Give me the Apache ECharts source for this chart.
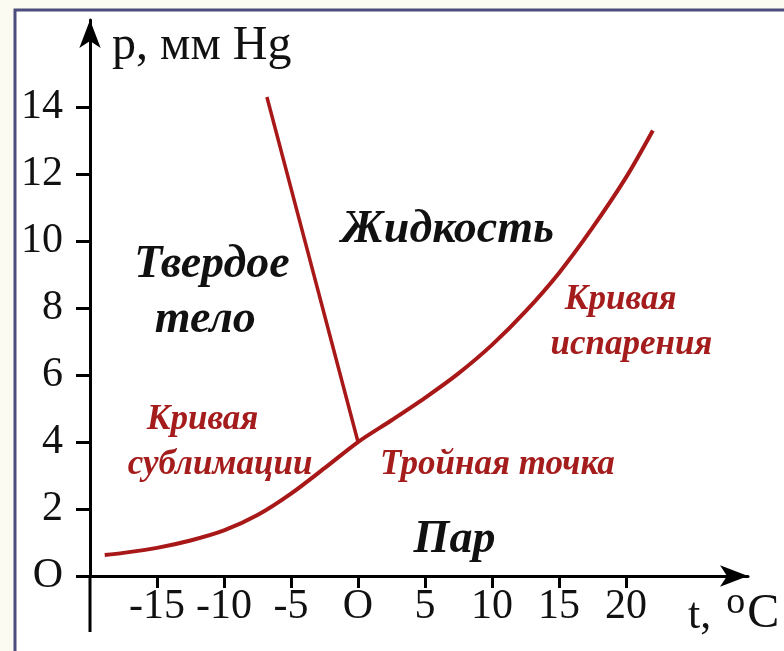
<!DOCTYPE html>
<html>
<head>
<meta charset="utf-8">
<script src="https://cdn.jsdelivr.net/npm/echarts@6/dist/echarts.min.js"></script>
<style>
  html, body { margin: 0; padding: 0; background: #fcfbf1; }
  #chart { width: 784px; height: 651px; }
</style>
</head>
<body>
<div id="chart"></div>
<script>
// phase diagram of water: t (°C) vs p (mm Hg)
var xTicks = [-15, -10, -5, 0, 5, 10, 15, 20];
var yTicks = [0, 2, 4, 6, 8, 10, 12, 14];

// sublimation + vaporization curve (through the triple point)
var vaporCurve = [
    [-18.9, 0.63], [-17.5, 0.69], [-15, 0.84], [-12.5, 1.06], [-10, 1.36],
    [-7.5, 1.82], [-5, 2.46], [-2.5, 3.22], [0, 4.0], [2.5, 4.65],
    [5, 5.32], [7.5, 6.05], [10, 6.9], [12.5, 7.9], [15, 9.05],
    [17.5, 10.4], [20, 11.9], [22, 13.3]
];
// melting curve
var meltCurve = [[0, 4.0], [-6.8, 14.3]];

var blackLabels = [
    [-10.9, 9.28, 'Твердое'],
    [-11.4, 7.64, 'тело'],
    [6.7, 10.33, 'Жидкость'],
    [7.2, 1.07, 'Пар']
];
var redLabels = [
    [19.6, 8.24, 'Кривая'],
    [20.4, 6.9, 'испарения'],
    [-11.6, 4.66, 'Кривая'],
    [-10.3, 3.31, 'сублимации'],
    [10.4, 3.31, 'Тройная точка']
];

var serif = '"Liberation Serif", "DejaVu Serif", serif';
var red = '#a81818';
var zeroLabel = function(v) { return v === 0 ? 'O' : String(v); };

var myChart = echarts.init(document.getElementById('chart'));
var option = {
    backgroundColor: '#fcfbf1',
    animation: false,
    grid: {left: 90, right: 36, top: 20, bottom: 75, outerBoundsMode: 'none', containLabel: false},
    xAxis: {
        type: 'value',
        min: -20,
        max: 29.1,
        splitLine: {show: false},
        axisLine: {
            onZero: false,
            symbol: ['none', 'arrow'],
            symbolSize: [16, 28],
            lineStyle: {color: '#000', width: 3}
        },
        axisTick: {
            customValues: xTicks,
            length: 12,
            lineStyle: {color: '#000', width: 3}
        },
        axisLabel: {
            customValues: xTicks,
            margin: 10,
            color: '#111',
            fontFamily: serif,
            fontSize: 42,
            formatter: zeroLabel
        },
        name: '{a|t, }{s|o}{c|C}',
        nameLocation: 'end',
        nameGap: -60,
        nameTextStyle: {
            align: 'left',
            verticalAlign: 'top',
            padding: [8, 0, 0, 0],
            rich: {
                a: {fontFamily: serif, fontSize: 44, color: '#111', verticalAlign: 'bottom'},
                s: {fontFamily: serif, fontSize: 38, color: '#111', verticalAlign: 'top', padding: [0, 2, 16, 4]},
                c: {fontFamily: serif, fontSize: 48, color: '#111', verticalAlign: 'bottom'}
            }
        }
    },
    yAxis: {
        type: 'value',
        min: 0,
        max: 16.6,
        splitLine: {show: false},
        axisLine: {
            onZero: false,
            symbol: ['none', 'arrow'],
            symbolSize: [16, 28],
            lineStyle: {color: '#000', width: 3}
        },
        axisTick: {
            customValues: yTicks,
            length: 14,
            lineStyle: {color: '#000', width: 3}
        },
        axisLabel: {
            customValues: yTicks,
            margin: 27,
            color: '#111',
            fontFamily: serif,
            fontSize: 42,
            formatter: zeroLabel
        },
        name: 'p, мм Hg',
        nameLocation: 'end',
        nameGap: -26,
        nameTextStyle: {
            align: 'left',
            verticalAlign: 'middle',
            padding: [0, 0, 0, 22],
            fontFamily: serif,
            fontSize: 48,
            color: '#111'
        }
    },
    series: [
        {
            type: 'line',
            data: vaporCurve,
            smooth: 0.3,
            showSymbol: false,
            lineStyle: {color: red, width: 4}
        },
        {
            type: 'line',
            data: meltCurve,
            showSymbol: false,
            lineStyle: {color: red, width: 3.5}
        },
        {
            type: 'scatter',
            data: blackLabels,
            symbolSize: 0,
            itemStyle: {opacity: 1},
            label: {
                show: true,
                position: 'inside',
                formatter: function(p) { return p.data[2]; },
                fontFamily: serif,
                fontStyle: 'italic',
                fontWeight: 'bold',
                fontSize: 46,
                color: '#111'
            }
        },
        {
            type: 'scatter',
            data: redLabels,
            symbolSize: 0,
            itemStyle: {opacity: 1},
            label: {
                show: true,
                position: 'inside',
                formatter: function(p) { return p.data[2]; },
                fontFamily: serif,
                fontStyle: 'italic',
                fontWeight: 'bold',
                fontSize: 35,
                color: '#a51c1c'
            }
        }
    ]
};
myChart.setOption(option);

// frame and the short stub of the p axis below t axis
var origin = myChart.convertToPixel({gridIndex: 0}, [-20, 0]);
myChart.setOption({
    graphic: [
        {
            type: 'rect',
            z: -10,
            shape: {x: 15, y: 10, width: 800, height: 700},
            style: {fill: '#ffffff', stroke: '#4d4d7d', lineWidth: 3}
        },
        {
            type: 'line',
            z: 10,
            shape: {x1: origin[0], y1: origin[1], x2: origin[0], y2: origin[1] + 56},
            style: {stroke: '#000', lineWidth: 3}
        }
    ]
});
</script>
</body>
</html>
